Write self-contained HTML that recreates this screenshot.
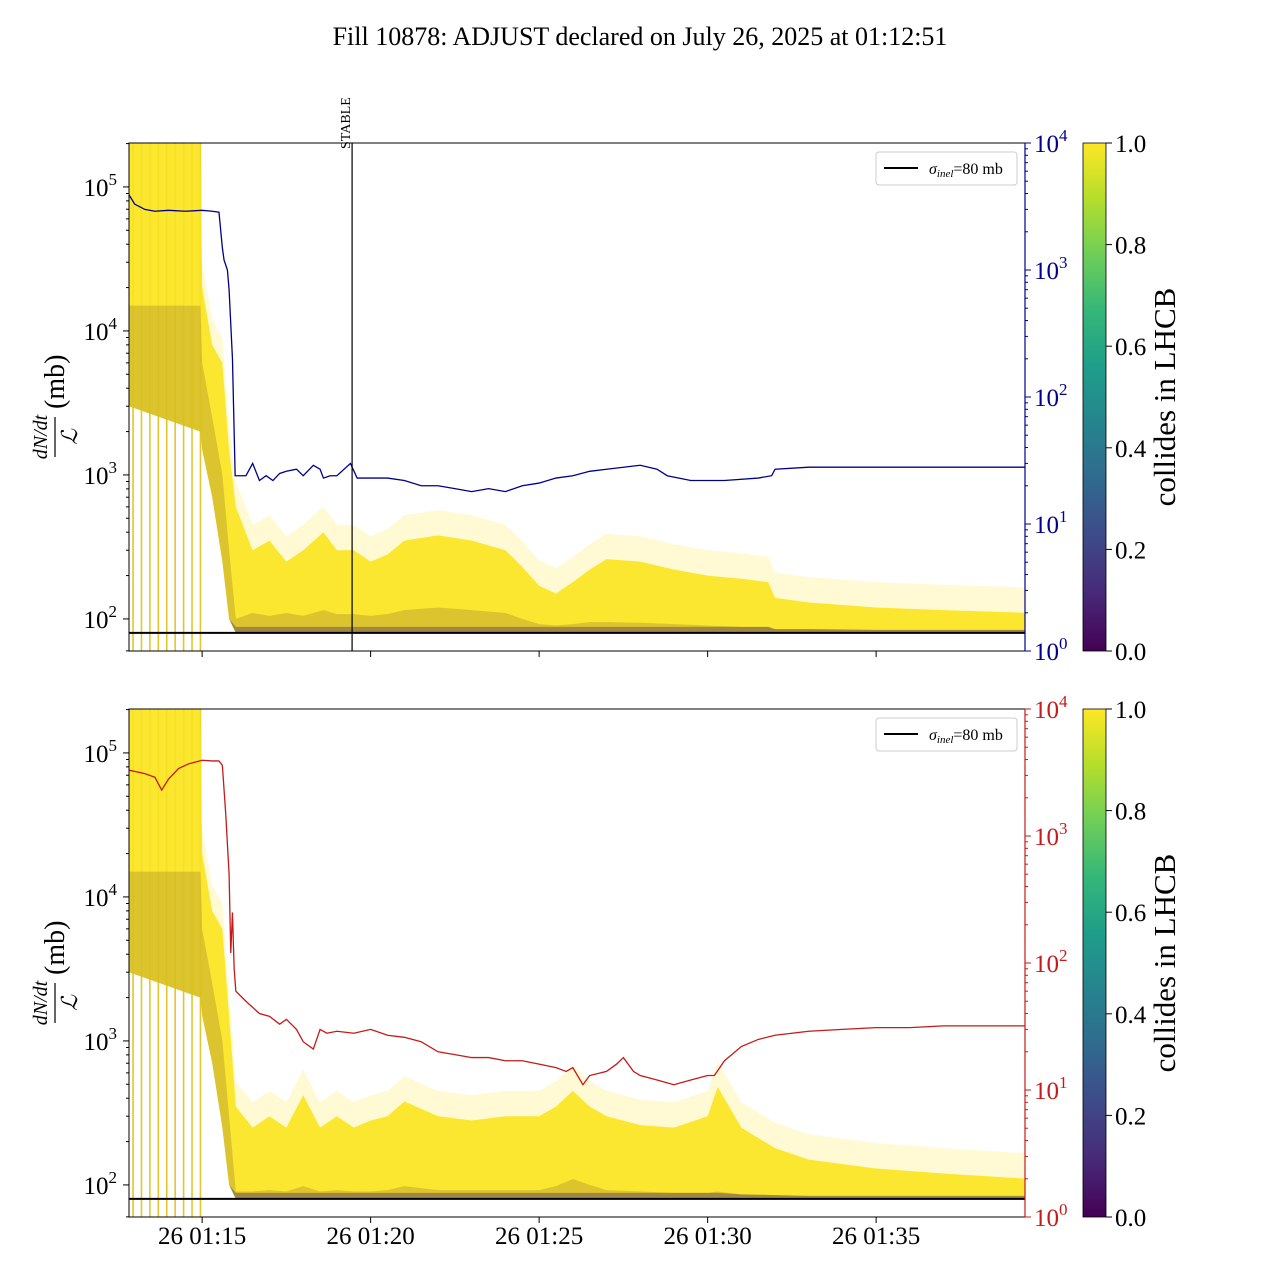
<!DOCTYPE html>
<html><head><meta charset="utf-8"><style>
body{margin:0;background:#fff;}
svg{display:block;font-family:"Liberation Serif",serif;}
</style></head><body>
<svg id="chart" width="1280" height="1280" viewBox="0 0 1280 1280">
<defs>
<linearGradient id="viridis" x1="0" y1="1" x2="0" y2="0">
<stop offset="0" stop-color="#440154"/><stop offset="0.11" stop-color="#482878"/><stop offset="0.22" stop-color="#3e4989"/><stop offset="0.33" stop-color="#31688e"/><stop offset="0.44" stop-color="#26828e"/><stop offset="0.56" stop-color="#1f9e89"/><stop offset="0.67" stop-color="#35b779"/><stop offset="0.78" stop-color="#6ece58"/><stop offset="0.89" stop-color="#b5de2b"/><stop offset="1" stop-color="#fde725"/>
</linearGradient>
<clipPath id="clipTop"><rect x="129" y="143" width="896" height="508"/></clipPath>
<clipPath id="clipBot"><rect x="129" y="709" width="896" height="508"/></clipPath>
</defs>
<text x="640" y="45" font-size="26" text-anchor="middle">Fill 10878: ADJUST declared on July 26, 2025 at 01:12:51</text>
<g id="root"></g>
</svg>
<script>
// time in minutes after 01:00
const bandTimesTop = [12.83,14.95,15.0,15.3,15.6,15.8,16.0,16.5,17.0,17.5,18.0,18.6,19.0,19.5,20.0,20.5,21.0,22.0,23.0,24.0,24.5,25.0,25.5,26.0,26.5,27.0,28.0,29.0,30.0,31.0,31.8,32.0,33.0,35.0,37.0,39.6];
const bandUpperTop = [200000,200000,20000,8000,6000,1500,600,300,350,250,300,400,300,300,250,280,350,380,350,300,230,170,150,180,220,260,250,220,200,190,180,140,130,120,115,110];
const bandLowerTop = [3000,2000,1500,700,250,100,80,80,80,80,80,80,80,80,80,80,80,80,80,80,80,80,80,80,80,80,80,80,80,80,80,80,80,80,80,80];
const coreUpperTop = [15000,15000,6000,2500,1000,300,100,110,105,110,105,115,108,108,105,108,115,120,115,110,100,92,90,92,95,95,94,92,90,88,88,85,85,84,84,84];
const bandTimesBot = [12.83,14.95,15.0,15.3,15.6,15.8,16.0,16.5,17.0,17.5,18.0,18.5,19.0,19.5,20.0,20.5,21.0,22.0,23.0,24.0,25.0,25.5,26.0,26.5,27.0,28.0,29.0,30.0,30.3,31.0,32.0,33.0,35.0,37.0,39.6];
const bandUpperBot = [200000,200000,20000,8000,6000,1500,350,250,300,250,420,250,300,250,280,300,380,300,280,300,300,350,450,350,300,260,250,300,480,250,180,150,130,120,110];
const bandLowerBot = [3000,2000,1500,700,250,100,80,80,80,80,80,80,80,80,80,80,80,80,80,80,80,80,80,80,80,80,80,80,80,80,80,80,80,80,80];
const coreUpperBot = [15000,15000,6000,2500,1000,300,90,90,92,90,98,90,92,90,90,92,98,92,92,92,92,98,110,100,92,90,88,88,90,86,85,84,84,84,84];
const spikeTimes = [12.95,13.2,13.45,13.7,13.95,14.2,14.45,14.7,14.95];
const blueTimes = [12.83,13.0,13.3,13.6,14.0,14.5,15.0,15.3,15.5,15.6,15.65,15.75,15.8,15.9,15.98,16.3,16.5,16.7,16.9,17.1,17.3,17.5,17.8,18.0,18.3,18.5,18.6,18.8,19.0,19.4,19.6,20.0,20.5,21.0,21.5,22.0,22.5,23.0,23.5,24.0,24.5,25.0,25.5,26.0,26.5,27.0,27.5,28.0,28.5,28.8,29.5,30.5,31.5,31.9,32.0,33.0,35.0,37.0,39.0,39.6];
const blueVals = [3900,3300,3000,2900,2950,2900,2950,2900,2850,1500,1200,1000,700,200,24,24,30,22,24,22,25,26,27,24,29,27,23,24,24,30,23,23,23,22,20,20,19,18,19,18,20,21,23,24,26,27,28,29,27,24,22,22,23,24,27,28,28,28,28,28];
const redTimes = [12.83,13.3,13.6,13.8,14.0,14.3,14.6,15.0,15.3,15.5,15.6,15.7,15.8,15.85,15.9,15.95,16.0,16.3,16.7,17.0,17.3,17.5,17.8,18.0,18.3,18.5,18.7,19.0,19.5,20.0,20.5,21.0,21.5,22.0,22.5,23.0,23.5,24.0,24.5,25.0,25.5,25.8,26.0,26.3,26.5,27.0,27.3,27.5,27.8,28.0,28.5,29.0,29.5,30.0,30.2,30.5,31.0,31.5,32.0,32.5,33.0,34.0,35.0,36.0,37.0,38.0,39.0,39.6];
const redVals = [3300,3100,2900,2300,2800,3400,3700,3950,3900,3900,3600,1500,500,120,250,90,60,50,40,38,33,36,30,24,21,30,28,29,28,30,27,26,24,20,19,18,18,17,17,16,15,14,15,11,13,14,16,18,14,13,12,11,12,13,13,17,22,25,27,28,29,30,31,31,32,32,32,32];
const tickTimes = [15,20,25,30,35];
const tickLabels = ['26 01:15','26 01:20','26 01:25','26 01:30','26 01:35'];
const leftDecades = [2,3,4,5];
const rightDecades = [0,1,2,3,4];
const cbTicks = [0.0,0.2,0.4,0.6,0.8,1.0];
const stableTime = 19.45;
const sigmaInel = 80;

const NS='http://www.w3.org/2000/svg';
const root=document.getElementById('root');
const AX0=129, AX1=1025, T0=12.83, PXMIN=33.7;
function xs(t){return AX0+(t-T0)*PXMIN;}
function yL(v,top){return top+(5.305-Math.log10(v))*144;}
function yR(v,top){return top+508-Math.log10(v)*127;}
function mk(tag,attrs,parent){const e=document.createElementNS(NS,tag);for(const k in attrs)e.setAttribute(k,attrs[k]);(parent||root).appendChild(e);return e;}
function bandPts(times,up,lo,top,f){
  let p=times.map((t,i)=>xs(t)+','+yL(up[i]*f,top)).join(' ');
  p+=' '+times.map((t,i)=>xs(t)+','+yL(lo[i],top)).reverse().join(' ');
  return p;
}

function panel(top,clip,times,upper,lower,core,lineT,lineV,lineColor,name){
  const g=mk('g',{'clip-path':'url(#'+clip+')'});
  
  
  spikeTimes.forEach(t=>{
    const s=mk('line',{x1:xs(t),x2:xs(t),y1:top,y2:top+508,stroke:'#e3c62a','stroke-width':1.6},g);
    
    
  });
  const f=mk('polygon',{points:bandPts(times,upper,lower,top,1.5),fill:'#fde725',opacity:'0.2'},g);
  
  
  const b=mk('polygon',{points:bandPts(times,upper,lower,top,1),fill:'#fbe31e',opacity:'0.9'},g);
  
  
  const c=mk('polygon',{points:bandPts(times,core,lower,top,1),fill:'#8a6d2a',opacity:'0.28'},g);
  
  
  const lo2=lower.map(v=>v), up2=core.map((v,i)=>lower[i]>80?lower[i]:Math.min(v,88));
  const c2=mk('polygon',{points:bandPts(times,up2,lo2,top,1),fill:'#4a2c6a',opacity:'0.4'},g);
  
  
  const sig=mk('line',{x1:AX0,x2:AX1,y1:yL(sigmaInel,top),y2:yL(sigmaInel,top),stroke:'#000','stroke-width':2},g);
  
  
  const pl=mk('polyline',{points:lineT.map((t,i)=>xs(t)+','+yR(lineV[i],top)).join(' '),fill:'none',stroke:lineColor,'stroke-width':1.3},g);
  
  
  const fr=mk('rect',{x:AX0,y:top,width:AX1-AX0,height:508,fill:'none',stroke:'#000','stroke-width':1});
  
  
  mk('line',{x1:AX1,x2:AX1,y1:top,y2:top+508,stroke:lineColor,'stroke-width':1.2});
  leftDecades.forEach(d=>{
    const y=yL(Math.pow(10,d),top);
    mk('line',{x1:AX0-6,x2:AX0,y1:y,y2:y,stroke:'#000'});
    const tx=mk('text',{x:AX0-12,y:y+9,'font-size':25,'text-anchor':'end'});
    tx.textContent='10';
    const sp=document.createElementNS(NS,'tspan');sp.setAttribute('dy','-11');sp.setAttribute('font-size','17');sp.textContent=d;tx.appendChild(sp);
    
    
    for(let m=2;m<10;m++){const ym=yL(m*Math.pow(10,d),top);if(ym>top&&ym<top+508)mk('line',{x1:AX0-3,x2:AX0,y1:ym,y2:ym,stroke:'#000'});}
  });
  const ym1=yL(60,top);mk('line',{x1:AX0-3,x2:AX0,y1:ym1,y2:ym1,stroke:'#000'});
  rightDecades.forEach(d=>{
    const y=yR(Math.pow(10,d),top);
    mk('line',{x1:AX1,x2:AX1+6,y1:y,y2:y,stroke:lineColor});
    const tx=mk('text',{x:AX1+9,y:y+9,'font-size':25,fill:lineColor});
    tx.textContent='10';
    const sp=document.createElementNS(NS,'tspan');sp.setAttribute('dy','-11');sp.setAttribute('font-size','17');sp.textContent=d;tx.appendChild(sp);
    
    
    if(d<4)for(let m=2;m<10;m++){const ym=yR(m*Math.pow(10,d),top);mk('line',{x1:AX1,x2:AX1+3,y1:ym,y2:ym,stroke:lineColor});}
  });
  tickTimes.forEach((t,i)=>{
    mk('line',{x1:xs(t),x2:xs(t),y1:top+508,y2:top+514,stroke:'#000'});
  });
  const yl=mk('g',{transform:'translate(55,'+(top+254)+') rotate(-90)'});
  
  
  const n=mk('text',{x:-40,y:-8,'font-size':20,'font-style':'italic','text-anchor':'middle'},yl);n.textContent='dN/dt';
  mk('line',{x1:-60,x2:-20,y1:0,y2:0,stroke:'#000','stroke-width':1.2},yl);
  const dn=mk('text',{x:-40,y:22,'font-size':22,'font-style':'italic','text-anchor':'middle'},yl);dn.textContent='ℒ';
  const mb=mk('text',{x:-12,y:9,'font-size':28},yl);mb.textContent='(mb)';
  const lg=mk('g',{});
  
  
  mk('rect',{x:876,y:top+9,width:141,height:33,rx:3,fill:'#fff',stroke:'#ccc'},lg);
  mk('line',{x1:884,x2:918,y1:top+25,y2:top+25,stroke:'#000','stroke-width':2},lg);
  const lt=mk('text',{x:929,y:top+31,'font-size':16},lg);
  lt.innerHTML='<tspan font-style="italic">σ</tspan><tspan font-style="italic" font-size="11" dy="3">inel</tspan><tspan dy="-3">=80 mb</tspan>';
  const cb=mk('rect',{x:1083,y:top,width:23,height:508,fill:'url(#viridis)',stroke:'#000','stroke-width':0.8});
  
  
  cbTicks.forEach(v=>{
    const y=top+508-v*508;
    mk('line',{x1:1106,x2:1112,y1:y,y2:y,stroke:'#000'});
    const t=mk('text',{x:1115,y:y+9,'font-size':25});t.textContent=v.toFixed(1);
    
    
  });
  const cl=mk('text',{x:0,y:0,'font-size':31,'text-anchor':'middle',transform:'translate(1175,'+(top+254)+') rotate(-90)'});
  cl.textContent='collides in LHCB';
  
  
}
panel(143,'clipTop',bandTimesTop,bandUpperTop,bandLowerTop,coreUpperTop,blueTimes,blueVals,'#00008b','top');
panel(709,'clipBot',bandTimesBot,bandUpperBot,bandLowerBot,coreUpperBot,redTimes,redVals,'#c41a1a','bottom');
const sx=xs(stableTime);
const sl=mk('line',{x1:sx,x2:sx,y1:143,y2:651,stroke:'#000','stroke-width':1.2});


const st=mk('text',{x:0,y:0,'font-size':14,transform:'translate('+(sx-2)+',149) rotate(-90)'});
st.textContent='STABLE';


tickTimes.forEach((t,i)=>{
  const tx=mk('text',{x:xs(t),y:1244,'font-size':25,'text-anchor':'middle'});
  tx.textContent=tickLabels[i];
  
  
});
</script>
</body></html>
